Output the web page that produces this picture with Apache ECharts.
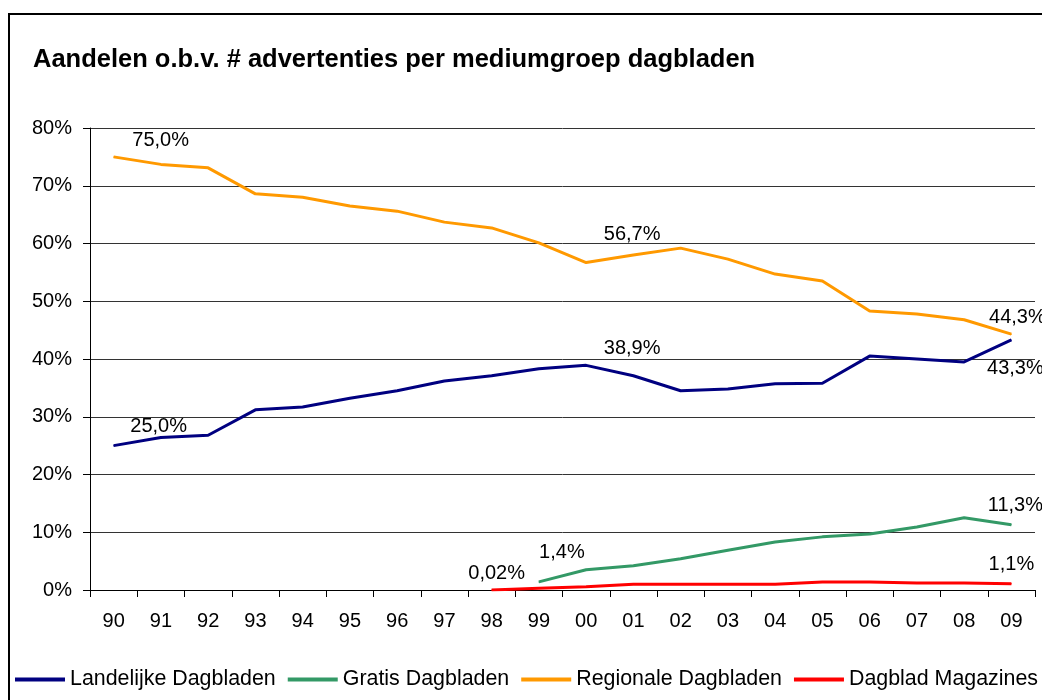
<!DOCTYPE html>
<html lang="nl">
<head>
    <meta charset="UTF-8">
    <title>Aandelen o.b.v. # advertenties</title>
    <style>
        html, body { margin: 0; padding: 0; background: #fff; }
        #main { width: 1042px; height: 700px; }
    </style>
</head>
<body>
<div id="main"></div>
<script src="https://cdn.jsdelivr.net/npm/echarts@6/dist/echarts.min.js"></script>
<script>
    // jaren (x-as)
    var years = ['90','91','92','93','94','95','96','97','98','99','00','01','02','03','04','05','06','07','08','09'];
    var yTicks = [0, 10, 20, 30, 40, 50, 60, 70, 80];

    // aandelen in %
    var landelijke = [25.0, 26.4, 26.8, 31.2, 31.7, 33.2, 34.5, 36.2, 37.1, 38.3, 38.9, 37.1, 34.5, 34.8, 35.7, 35.8, 40.5, 40.0, 39.5, 43.3];
    var gratis     = [null, null, null, null, null, null, null, null, null, 1.4, 3.5, 4.2, 5.4, 6.9, 8.3, 9.2, 9.7, 10.9, 12.5, 11.3];
    var regionale  = [75.0, 73.7, 73.1, 68.6, 68.0, 66.5, 65.6, 63.7, 62.7, 60.1, 56.7, 58.0, 59.2, 57.3, 54.7, 53.5, 48.3, 47.8, 46.8, 44.3];
    var magazines  = [null, null, null, null, null, null, null, null, 0.02, 0.3, 0.57, 1.0, 1.0, 1.0, 1.0, 1.4, 1.4, 1.2, 1.2, 1.1];

    var FONT = 'Liberation Sans, Arial, sans-serif';

    function nl(v, dec) {
        return v.toFixed(dec).replace('.', ',') + '%';
    }

    // zet labels op enkele punten
    function withLabels(values, labels) {
        return values.map(function (v, i) {
            var item = { value: v };
            if (labels[i]) {
                var l = labels[i];
                item.label = {
                    show: true,
                    position: l.pos || 'top',
                    offset: l.offset || [0, 0],
                    distance: 6,
                    color: '#000',
                    fontFamily: FONT,
                    fontSize: 20,
                    formatter: nl(v, l.dec || 1)
                };
            }
            return item;
        });
    }

    function lineSeries(name, color, data) {
        return {
            name: name,
            type: 'line',
            data: data,
            symbol: 'circle',
            symbolSize: 1,
            connectNulls: false,
            lineStyle: { color: color, width: 3 },
            itemStyle: { color: color },
            label: { show: false },
            emphasis: { disabled: true },
            z: 3
        };
    }

    var series = [];
    series.push(lineSeries('Landelijke Dagbladen', '#000080', withLabels(landelijke, {
        0: { offset: [45, -3] },
        10: { offset: [46, 0] },
        19: { pos: 'bottom', offset: [4, 12] }
    })));
    series.push(lineSeries('Gratis Dagbladen', '#339966', withLabels(gratis, {
        9: { offset: [23, -13] },
        19: { offset: [4, -3] }
    })));
    series.push(lineSeries('Regionale Dagbladen', '#FF9900', withLabels(regionale, {
        0: { offset: [47, 0] },
        10: { offset: [46, -12] },
        19: { offset: [6, 0] }
    })));
    series.push(lineSeries('Dagblad Magazines', '#FF0000', withLabels(magazines, {
        8: { offset: [5, 0], dec: 2 },
        19: { offset: [0, -3] }
    })));

    var option = {
        animation: false,
        backgroundColor: '#fff',
        textStyle: { fontFamily: FONT },
        title: {
            text: 'Aandelen o.b.v. # advertenties per mediumgroep dagbladen',
            left: 28,
            top: 42,
            textStyle: { fontFamily: FONT, fontSize: 25.5, fontWeight: 'bold', color: '#000' }
        },
        graphic: [{
            type: 'rect',
            shape: { x: 9, y: 14, width: 1100, height: 760 },
            style: { fill: 'none', stroke: '#000', lineWidth: 2 },
            silent: true,
            z: -1
        }],
        legend: {
            left: 15,
            top: 669,
            width: 1042,
            padding: 0,
            itemGap: 12,
            itemWidth: 50,
            itemHeight: 4,
            icon: 'rect',
            textStyle: { fontFamily: FONT, fontSize: 21.4, color: '#000' },
            data: ['Landelijke Dagbladen', 'Gratis Dagbladen', 'Regionale Dagbladen', 'Dagblad Magazines']
        },
        grid: { left: 90, right: 7, top: 128, bottom: 110, containLabel: false },
        xAxis: {
            type: 'category',
            data: years,
            boundaryGap: true,
            axisLine: { lineStyle: { color: '#000', width: 1 } },
            axisTick: { show: true, length: 7, alignWithLabel: false, lineStyle: { color: '#000' } },
            axisLabel: { color: '#000', fontFamily: FONT, fontSize: 20, margin: 21 },
            splitLine: { show: false }
        },
        yAxis: {
            type: 'value',
            min: yTicks[0],
            max: yTicks[yTicks.length - 1],
            interval: 10,
            axisLine: { show: true, lineStyle: { color: '#000', width: 1 } },
            axisTick: { show: true, length: 7, lineStyle: { color: '#000' } },
            axisLabel: { color: '#000', fontFamily: FONT, fontSize: 20, margin: 18, formatter: '{value}%' },
            splitLine: { show: true, lineStyle: { color: '#333', width: 1 } }
        },
        series: series
    };

    var chart = echarts.init(document.getElementById('main'));
    chart.setOption(option);
</script>
</body>
</html>
